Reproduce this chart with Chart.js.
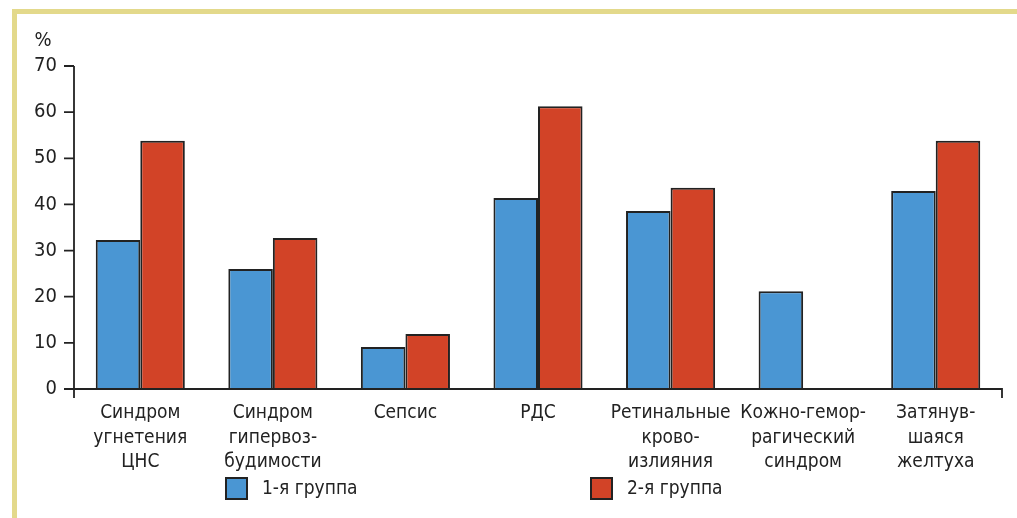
<!DOCTYPE html>
<html><head><meta charset="utf-8">
<script src="https://cdn.jsdelivr.net/npm/chart.js@4/dist/chart.umd.min.js"></script>
<style>html,body{margin:0;padding:0;background:#fff;overflow:hidden}#wrap{width:1017px;height:518px;position:relative}</style>
</head><body><div id="wrap"><canvas id="c" width="1017" height="518"></canvas></div>
<script>
const categories = [
  ["Синдром","угнетения","ЦНС"],
  ["Синдром","гипервоз-","будимости"],
  ["Сепсис"],
  ["РДС"],
  ["Ретинальные","крово-","излияния"],
  ["Кожно-гемор-","рагический","синдром"],
  ["Затянув-","шаяся","желтуха"]
];
const group1 = [32.3, 26.0, 9.1, 41.4, 38.6, 21.2, 42.9];
const group2 = [53.8, 32.7, 11.9, 61.3, 43.6, 0, 53.8];
const seriesNames = ["1-я группа", "2-я группа"];
const yTicks = [0,10,20,30,40,50,60,70];
const yUnit = "%";

const FONT = "'Liberation Sans Narrow','DejaVu Sans Condensed','Liberation Sans',sans-serif";
const BLUE = '#4a96d3', RED = '#d24327', INK = '#222222';

const decor = {
  id: 'decor',
  beforeDraw(chart) {
    const ctx = chart.ctx;
    ctx.save();
    ctx.fillStyle = '#fff';
    ctx.fillRect(0,0,chart.width,chart.height);
    ctx.fillStyle = '#e3d98b';
    ctx.fillRect(12, 9, chart.width - 12, 5);
    ctx.fillRect(12, 9, 5, chart.height - 9);
    ctx.restore();
  },
  afterDraw(chart) {
    const ctx = chart.ctx, x = chart.scales.x, y = chart.scales.y;
    const L = x.left, R = x.right, T = y.getPixelForValue(70), B = y.getPixelForValue(0);
    ctx.save();
    ctx.strokeStyle = INK; ctx.lineWidth = 1.8;
    ctx.beginPath();
    ctx.moveTo(L, T); ctx.lineTo(L, B + 9);
    ctx.moveTo(L - 10, B); ctx.lineTo(R, B); ctx.lineTo(R, B + 9);
    yTicks.forEach(v => { const p = y.getPixelForValue(v); ctx.moveTo(L - 10, p); ctx.lineTo(L, p); });
    ctx.stroke();
    // unit
    ctx.fillStyle = INK; ctx.font = "20px " + FONT; ctx.textAlign = 'center'; ctx.textBaseline = 'middle';
    ctx.fillText(yUnit, 43, 41);
    // legend
    const ds = chart.data.datasets;
    const lx = [226, 591];
    ds.forEach((d, i) => {
      ctx.fillStyle = d.backgroundColor;
      ctx.fillRect(lx[i], 478, 21, 21);
      ctx.lineWidth = 2; ctx.strokeStyle = INK;
      ctx.strokeRect(lx[i], 478, 21, 21);
      ctx.fillStyle = INK; ctx.textAlign = 'left'; ctx.font = "19px " + FONT;
      ctx.fillText(d.label, lx[i] + 36, 489);
    });
    ctx.restore();
  }
};

new Chart(document.getElementById('c'), {
  type: 'bar',
  data: {
    labels: categories,
    datasets: [
      { label: seriesNames[0], data: group1, backgroundColor: BLUE, borderColor: INK, borderWidth: 2, borderSkipped: 'bottom' },
      { label: seriesNames[1], data: group2, backgroundColor: RED, borderColor: INK, borderWidth: 2, borderSkipped: 'bottom' }
    ]
  },
  options: {
    responsive: false, animation: false,
    layout: { padding: { top: 66, right: 15, left: 0, bottom: 0 } },
    plugins: { legend: { display: false }, tooltip: { enabled: false } },
    datasets: { bar: { categoryPercentage: 0.672, barPercentage: 1.0 } },
    scales: {
      x: {
        grid: { display: false, drawTicks: false }, border: { display: false },
        ticks: { color: INK, font: { family: FONT, size: 19, lineHeight: 1.29 }, padding: 12, maxRotation: 0, autoSkip: false },
        afterFit: s => { s.height = 129; }
      },
      y: {
        min: 0, max: 70,
        grid: { display: false, drawTicks: false }, border: { display: false },
        afterBuildTicks: s => { s.ticks = yTicks.map(v => ({ value: v })); },
        ticks: { color: INK, font: { family: FONT, size: 20 }, padding: 17 },
        afterFit: s => { s.width = 74; }
      }
    }
  },
  plugins: [decor]
});
</script></body></html>
